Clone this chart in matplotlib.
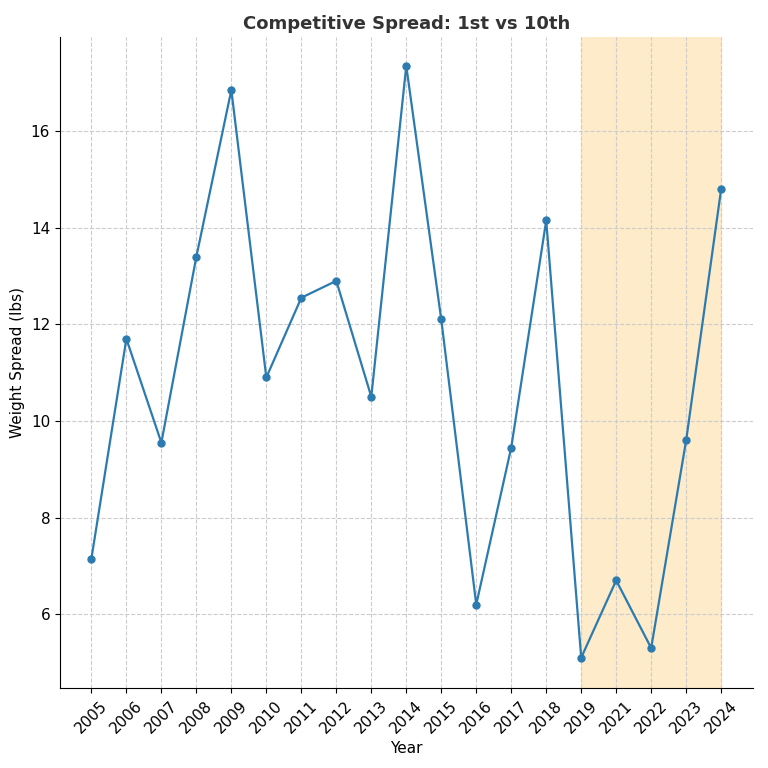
import matplotlib
matplotlib.use("Agg")
import matplotlib.pyplot as plt

years = ["2005","2006","2007","2008","2009","2010","2011","2012","2013","2014",
         "2015","2016","2017","2018","2019","2021","2022","2023","2024"]
spread = [7.15, 11.7, 9.55, 13.4, 16.85, 10.9, 12.55, 12.9, 10.5, 17.35,
          12.1, 6.2, 9.45, 14.15, 5.1, 6.7, 5.3, 9.6, 14.8]
shade_start, shade_end = "2019", "2024"

fig, ax = plt.subplots(figsize=(7.68, 7.68), dpi=100)
fig.subplots_adjust(left=0.078, right=0.98, top=0.952, bottom=0.104)
x = list(range(len(years)))
ax.axvspan(years.index(shade_start), years.index(shade_end), color="#fde9c4", alpha=0.9, zorder=0)
ax.plot(x, spread, color="#2c7bb0", marker="o", markersize=5, linewidth=1.6, zorder=3)
ax.set_xticks(x)
ax.set_xticklabels(years, rotation=45, fontsize=11)
ax.tick_params(axis="y", labelsize=11)
ax.set_xlim(-0.9, 18.9)
ax.set_ylim(4.47, 17.95)
ax.grid(True, linestyle="--", color="#cccccc", linewidth=0.8)
ax.set_axisbelow(True)
ax.spines["top"].set_visible(False)
ax.spines["right"].set_visible(False)
ax.set_xlabel("Year", fontsize=11)
ax.set_ylabel("Weight Spread (lbs)", fontsize=11)
ax.set_title("Competitive Spread: 1st vs 10th", fontsize=13, fontweight="bold", color="#333333")
fig.savefig("out.png")
